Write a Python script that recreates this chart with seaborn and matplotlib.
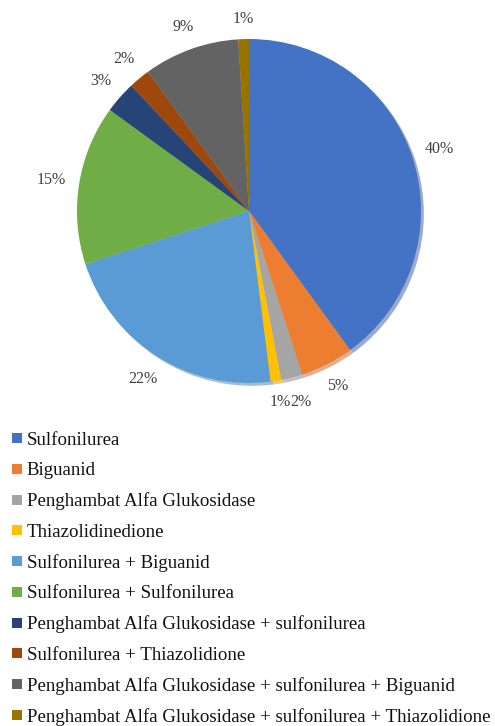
import matplotlib
matplotlib.use("Agg")
import numpy as np
import matplotlib.pyplot as plt
from matplotlib.lines import Line2D
import seaborn as sns

categories = [
    "Sulfonilurea",
    "Biguanid",
    "Penghambat Alfa Glukosidase",
    "Thiazolidinedione",
    "Sulfonilurea + Biguanid",
    "Sulfonilurea + Sulfonilurea",
    "Penghambat Alfa Glukosidase + sulfonilurea",
    "Sulfonilurea + Thiazolidione",
    "Penghambat Alfa Glukosidase + sulfonilurea + Biguanid",
    "Penghambat Alfa Glukosidase + sulfonilurea + Thiazolidione",
]
values = [40, 5, 2, 1, 22, 15, 3, 2, 9, 1]
colors = ["#4472C4", "#ED7D31", "#A5A5A5", "#FFC000", "#5B9BD5",
          "#70AD47", "#264478", "#9E480E", "#636363", "#997300"]

sns.set_style("white")
plt.rcParams["font.family"] = ["Liberation Serif", "DejaVu Serif"]

W, H = 495, 726
fig = plt.figure(figsize=(W / 100, H / 100), dpi=100)
cx, cy, R = 249, 211, 172
lim = 1.3
ax = fig.add_axes([(cx - R * lim) / W, (H - cy - R * lim) / H,
                   2 * R * lim / W, 2 * R * lim / H])
ax.axis("off")

wedges, texts, autotexts = ax.pie(
    values, colors=colors, startangle=90, counterclock=False,
    radius=1.0, autopct=lambda p: f"{p:.0f}%", pctdistance=1.165,
    wedgeprops=dict(linewidth=0),
    shadow=dict(ox=0.012, oy=-0.012, shade=0.2),
    textprops=dict(fontsize=11.5, color="#404040"),
)
ax.set_xlim(-lim, lim)
ax.set_ylim(-lim, lim)
ax.set_aspect("auto")

# place labels Excel-style: box edge a fixed gap outside the pie
fig.canvas.draw()
renderer = fig.canvas.get_renderer()
gap = 12.0 / R
prev = None
for w, t in zip(wedges, autotexts):
    theta = np.deg2rad((w.theta1 + w.theta2) / 2)
    bb = t.get_window_extent(renderer)
    hw = bb.width / 2 / R
    hh = bb.height / 2 / R
    c, s = np.cos(theta), np.sin(theta)
    d = 1 + gap + hw * abs(c) + hh * abs(s)
    x, y = d * c, d * s
    if prev is not None:
        px, py, phw, phh = prev
        if abs(y - py) < (hh + phh) * 0.9 and abs(x - px) < (hw + phw):
            # push sideways away from previous label, Excel-like
            x = px + np.sign(x - px if x != px else 1) * (hw + phw) * 1.0
            x = px - (hw + phw) if x < px else x
    t.set_position((x, y))
    t.set_clip_on(False)
    prev = (x, y, hw, hh)

# the 2% label ends up to the right of the 1% label in the reference
t2, t1 = autotexts[2], autotexts[3]
x2, y2 = t2.get_position()
x1, y1 = t1.get_position()
bb1 = t1.get_window_extent(renderer)
bb2 = t2.get_window_extent(renderer)
t1.set_position((x1 + 4 / R, y1))
t2.set_position((x1 + 4 / R + (bb1.width + bb2.width) / 2 / R, y1))

handles = [Line2D([0], [0], marker="s", linestyle="", markersize=7,
                  markerfacecolor=c, markeredgewidth=0) for c in colors]
fig.legend(handles, categories, loc="upper left",
           bbox_to_anchor=(0.008, (H - 424) / H), frameon=False,
           fontsize=13.6, handlelength=0.6, handletextpad=0.2,
           labelspacing=0.70, borderaxespad=0, labelcolor="#111111")

fig.savefig("out.png", dpi=100)
